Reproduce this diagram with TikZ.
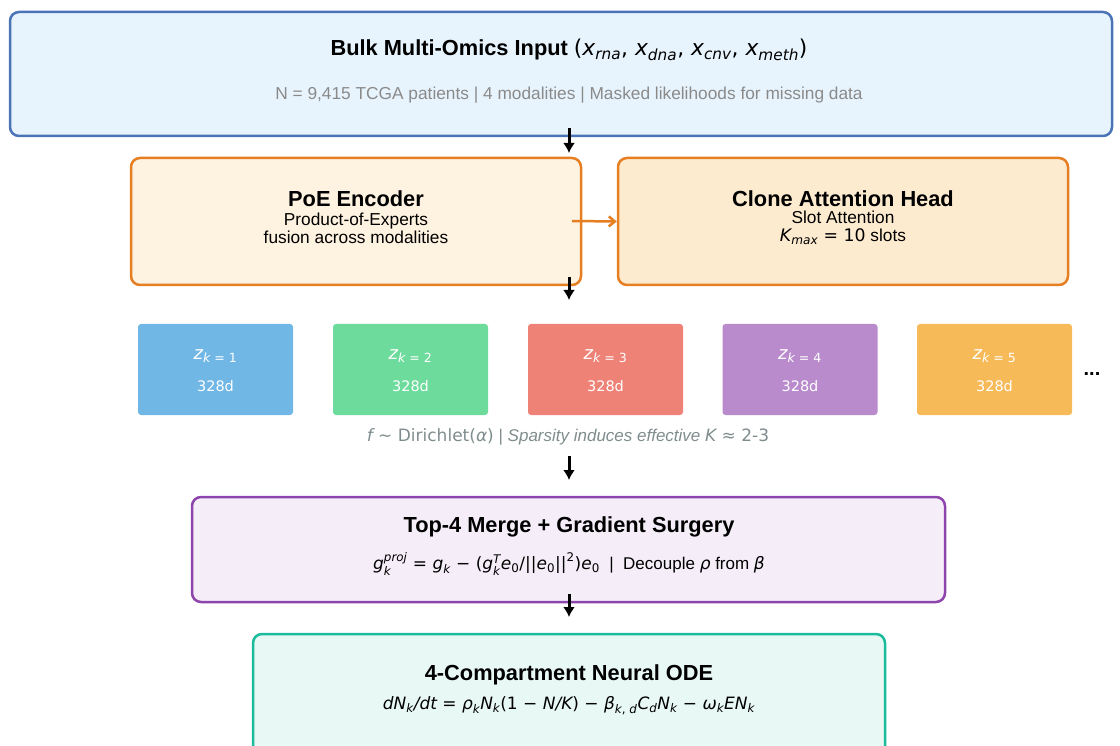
\documentclass[tikz,border=0pt]{standalone}
\usepackage{fontspec}
\usepackage{amsmath}
\setmainfont{Liberation Sans}
\newfontfamily\dvsans{DejaVu Sans}
\usetikzlibrary{positioning, arrows.meta, calc}

\definecolor{inputfill}{HTML}{E8F4FD}
\definecolor{inputline}{HTML}{4A74B5}
\definecolor{poefill}{HTML}{FEF2E0}
\definecolor{clonefill}{HTML}{FDEBD0}
\definecolor{orangeline}{HTML}{E67E22}
\definecolor{mergefill}{HTML}{F5EEF8}
\definecolor{mergeline}{HTML}{8E44AD}
\definecolor{odefill}{HTML}{E8F8F5}
\definecolor{odeline}{HTML}{1ABC9C}
\definecolor{subgray}{HTML}{8A8A8A}
\definecolor{capgray}{HTML}{7F8C8D}
\definecolor{slotblue}{HTML}{71B7E6}
\definecolor{slotgreen}{HTML}{6DDB9C}
\definecolor{slotred}{HTML}{EE8276}
\definecolor{slotpurple}{HTML}{B98BCC}
\definecolor{slotorange}{HTML}{F7BA59}

% math letters in DejaVu, as in the plotted figure
\newcommand{\mi}[1]{\text{\dvsans\mdseries\itshape #1}}
\newcommand{\mr}[1]{\text{\dvsans\mdseries\upshape #1}}
\DeclareMathSizes{21.8}{21.8}{15.3}{10.9}
\DeclareMathSizes{17}{17}{11.9}{8.5}
\DeclareMathSizes{17.3}{17.3}{12.1}{8.7}
\DeclareMathSizes{18}{18}{12.6}{9}

\begin{document}
\begin{tikzpicture}[
    x=1pt, y=-1pt,
    box/.style={rectangle, rounded corners=9pt, line width=2.5pt, inner sep=0pt},
    slot/.style={rectangle, rounded corners=3pt, minimum width=155pt, minimum height=91pt, inner sep=0pt},
    head/.style={font=\fontsize{21.8}{24}\selectfont\bfseries, inner sep=0pt},
    subtext/.style={font=\fontsize{17.3}{18}\selectfont, inner sep=0pt, align=center},
    slotname/.style={font=\fontsize{18}{20}\selectfont, text=white, inner sep=0pt},
    slotdim/.style={font=\dvsans\fontsize{14.5}{16}\selectfont, text=white, inner sep=0pt},
    flow/.style={-{Latex[length=10pt, width=12pt]}, line width=3pt},
]
    \clip (0,0) rectangle (1120,746);

    % Input box
    \node[box, draw=inputline, fill=inputfill, minimum width=1102pt, minimum height=124pt] (input_box) at (561,74) {};
    \node[head] (input_title) at (569,50) {Bulk Multi-Omics Input $\mr{(}\mi{x}_{\mi{rna}}\mr{, }\mi{x}_{\mi{dna}}\mr{, }\mi{x}_{\mi{cnv}}\mr{, }\mi{x}_{\mi{meth}}\mr{)}$};
    \node[subtext, text=subgray] (input_sub) at (569,95) {N = 9,415 TCGA patients | 4 modalities | Masked likelihoods for missing data};

    % Encoder and attention head
    \node[box, draw=orangeline, fill=poefill, minimum width=450pt, minimum height=127pt] (poe_box) at (356,221.5) {};
    \node[head] (poe_title) at (356,199) {PoE Encoder};
    \node[subtext] (poe_sub) at (356,228) {Product-of-Experts\\fusion across modalities};

    \node[box, draw=orangeline, fill=clonefill, minimum width=450pt, minimum height=127pt] (clone_box) at (843,221.5) {};
    \node[head] (clone_title) at (843,199) {Clone Attention Head};
    \node[subtext] (clone_sub) at (843,228) {Slot Attention\\$\mi{K}_{\mi{max}}\mr{ = 10}$ slots};

    % Clone slots
    \node[slot, fill=slotblue] (slot1) at (215.5,369.5) {};
    \node[slot, fill=slotgreen] (slot2) at (410.5,369.5) {};
    \node[slot, fill=slotred] (slot3) at (605.5,369.5) {};
    \node[slot, fill=slotpurple] (slot4) at (800,369.5) {};
    \node[slot, fill=slotorange] (slot5) at (994.5,369.5) {};

    \node[slotname] (slot1_name) at (215.5,356) {$\mi{z}_{\mi{k}\mr{ = 1}}$};
    \node[slotdim] (slot1_dim) at (215.5,386) {328d};
    \node[slotname] (slot2_name) at (410.5,356) {$\mi{z}_{\mi{k}\mr{ = 2}}$};
    \node[slotdim] (slot2_dim) at (410.5,386) {328d};
    \node[slotname] (slot3_name) at (605.5,356) {$\mi{z}_{\mi{k}\mr{ = 3}}$};
    \node[slotdim] (slot3_dim) at (605.5,386) {328d};
    \node[slotname] (slot4_name) at (800,356) {$\mi{z}_{\mi{k}\mr{ = 4}}$};
    \node[slotdim] (slot4_dim) at (800,386) {328d};
    \node[slotname] (slot5_name) at (994.5,356) {$\mi{z}_{\mi{k}\mr{ = 5}}$};
    \node[slotdim] (slot5_dim) at (994.5,386) {328d};
    \node[font=\fontsize{20}{20}\selectfont\bfseries, inner sep=0pt] (slot_more) at (1092,374) {...};

    \node[subtext, font=\fontsize{17}{18}\selectfont, text=capgray] (slot_caption) at (568,437) {$\mi{f}\mr{ ∼ Dirichlet(}\mi{α}\mr{)}$ | \textit{Sparsity induces effective} $\mi{K}\mr{ ≈ 2-3}$};

    % Merge box
    \node[box, draw=mergeline, fill=mergefill, minimum width=753pt, minimum height=105pt] (merge_box) at (568.5,549.5) {};
    \node[head] (merge_title) at (569,527) {Top-4 Merge + Gradient Surgery};
    \node[subtext, font=\fontsize{17}{18}\selectfont] (merge_sub) at (569,564) {$\mi{g}_{\mi{k}}^{\mi{proj}}\mr{ = }\mi{g}_{\mi{k}}\mr{ − (}\mi{g}_{\mi{k}}^{\mi{T}}\mi{e}_{\mr{0}}\mr{/||}\mi{e}_{\mr{0}}\mr{||}^{\mr{2}}\mr{)}\mi{e}_{\mr{0}}$\ \ |\ \ Decouple $\mi{ρ}$ from $\mi{β}$};

    % ODE box
    \node[box, draw=odeline, fill=odefill, minimum width=632pt, minimum height=130pt] (ode_box) at (569,699) {};
    \node[head] (ode_title) at (569,675) {4-Compartment Neural ODE};
    \node[subtext, font=\fontsize{17}{18}\selectfont] (ode_sub) at (569,706) {$\mi{dN}_{\mi{k}}\mi{/dt}\mr{ = }\mi{ρ}_{\mi{k}}\mi{N}_{\mi{k}}\mr{(1 − }\mi{N/K}\mr{) − }\mi{β}_{\mi{k}\mr{, }\mi{d}}\mi{C}_{\mi{d}}\mi{N}_{\mi{k}}\mr{ − }\mi{ω}_{\mi{k}}\mi{EN}_{\mi{k}}$};

    % Draw arrows
    \coordinate (in_out) at (569,128);
    \coordinate (poe_in) at (569,153);
    \draw[flow] (in_out) -- (poe_in);

    \coordinate (poe_out) at (572,221);
    \draw[-{Straight Barb[length=6pt, width=10pt]}, line width=2.5pt, draw=orangeline] (poe_out) -- (clone_box.west);

    \coordinate (poe_bottom) at (569,277);
    \coordinate (slots_top) at (569,300);
    \draw[flow] (poe_bottom) -- (slots_top);

    \coordinate (cap_out) at (569,456);
    \coordinate (merge_in) at (569,480);
    \draw[flow] (cap_out) -- (merge_in);

    \coordinate (merge_out) at (569,594);
    \coordinate (ode_in) at (569,617);
    \draw[flow] (merge_out) -- (ode_in);

\end{tikzpicture}
\end{document}
